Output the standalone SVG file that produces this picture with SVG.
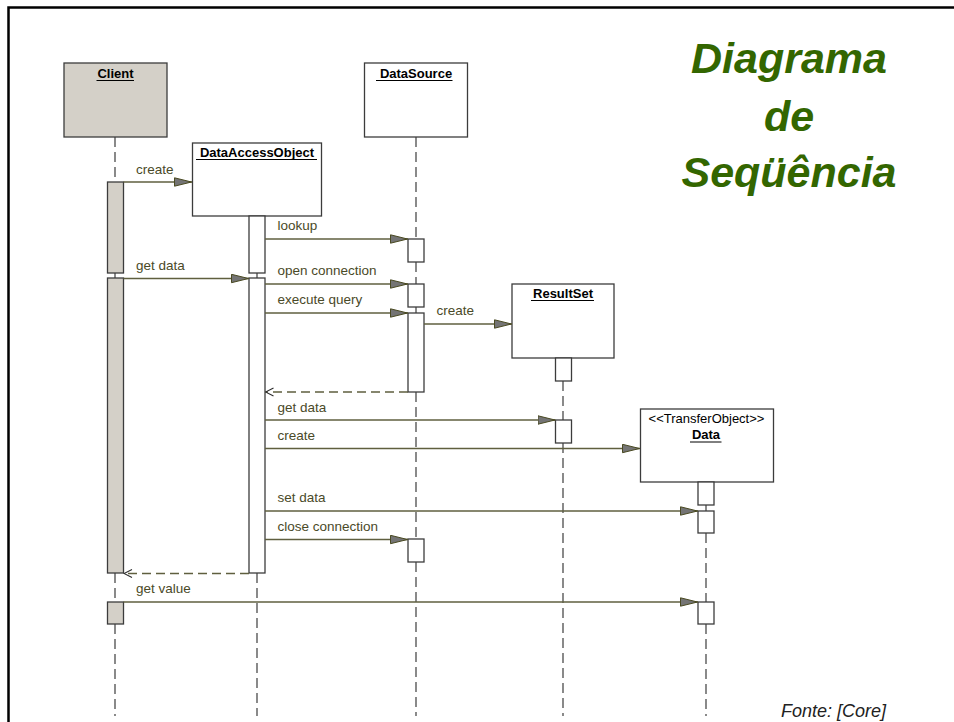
<svg xmlns="http://www.w3.org/2000/svg" width="954" height="722" viewBox="0 0 954 722">
  <style>
    .frame { stroke: #000; stroke-width: 2.5; fill: none; }
    .obj { fill: #fff; stroke: #3c3c3c; stroke-width: 1.3; }
    .obj.actor { fill: #d4d0c8; }
    .act { fill: #fff; stroke: #3c3c3c; stroke-width: 1.3; }
    .act.actor { fill: #d4d0c8; }
    .life { stroke: #3c3c3c; stroke-width: 1.2; stroke-dasharray: 10 5; fill: none; }
    .link { stroke: #3c3c3c; stroke-width: 1.2; fill: none; }
    .name { font-family: "Liberation Sans", Arial, sans-serif; font-size: 13px; font-weight: bold; fill: #000; text-anchor: middle; }
    .uline { stroke: #000; stroke-width: 1; }
    .stereo { font-family: "Liberation Sans", Arial, sans-serif; font-size: 13px; fill: #000; text-anchor: middle; }
    .msg { stroke: #5f5f3f; stroke-width: 1.3; fill: none; marker-end: url(#call); }
    .ret { stroke: #5f5f3f; stroke-width: 1.3; fill: none; stroke-dasharray: 9 5; marker-end: url(#back); }
    .lbl { font-family: "Liberation Sans", Arial, sans-serif; font-size: 13.5px; fill: #4a4a28; }
    .title { font-family: "Liberation Sans", Arial, sans-serif; font-size: 43px; font-weight: bold; font-style: italic; fill: #336600; text-anchor: middle; }
    .source { font-family: "Liberation Sans", Arial, sans-serif; font-size: 18px; font-style: italic; fill: #222; }
  </style>
  <defs>
    <marker id="call" viewBox="0 0 18 10" refX="18" refY="5" markerWidth="18" markerHeight="10" markerUnits="userSpaceOnUse" orient="auto">
      <path d="M0.5,0.8 L17.5,5 L0.5,9.2 z" fill="#747474" stroke="#4a4a22" stroke-width="1"/>
    </marker>
    <marker id="back" viewBox="0 0 10 10" refX="9" refY="5" markerWidth="10" markerHeight="10" markerUnits="userSpaceOnUse" orient="auto">
      <path d="M1,1 L9,5 L1,9" fill="none" stroke="#2a2a2a" stroke-width="1.1"/>
    </marker>
  </defs>

  <rect width="954" height="722" fill="#fff"/>

  <!-- outer frame -->
  <path class="frame" d="M8.5,722 L8.5,7.5 L954,7.5"/>

  <!-- title -->
  <g id="title">
    <text class="title" x="789" y="73">Diagrama</text>
    <text class="title" x="789" y="131">de</text>
    <text class="title" x="789" y="187">Seqüência</text>
  </g>

  <!-- Client -->
  <g id="client">
    <rect class="obj actor" x="64" y="63" width="103" height="74"/>
    <text class="name" x="115.5" y="78">Client</text>
    <line class="uline" x1="96.5" y1="80.5" x2="134" y2="80.5"/>
    <line class="life" x1="115" y1="137" x2="115" y2="182"/>
    <rect class="act actor" x="107.5" y="182" width="16" height="91"/>
    <line class="link" x1="115" y1="273" x2="115" y2="278"/>
    <rect class="act actor" x="107.5" y="278" width="16" height="295"/>
    <line class="life" x1="115" y1="573" x2="115" y2="602"/>
    <rect class="act actor" x="107.5" y="602" width="16" height="22"/>
    <line class="life" x1="115" y1="624" x2="115" y2="716"/>
  </g>

  <!-- DataAccessObject -->
  <g id="dao">
    <rect class="obj" x="192.5" y="143" width="129" height="73"/>
    <text class="name" x="257" y="157">DataAccessObject</text>
    <line class="uline" x1="196" y1="159.5" x2="317" y2="159.5"/>
    <rect class="act" x="249" y="216" width="16" height="57"/>
    <line class="link" x1="257" y1="273" x2="257" y2="278"/>
    <rect class="act" x="249" y="278" width="16" height="295"/>
    <line class="life" x1="257" y1="573" x2="257" y2="716"/>
  </g>

  <!-- DataSource -->
  <g id="datasource">
    <rect class="obj" x="364.5" y="63" width="103" height="74"/>
    <text class="name" x="416" y="78">DataSource</text>
    <line class="uline" x1="376" y1="80.5" x2="452.5" y2="80.5"/>
    <line class="life" x1="416" y1="137" x2="416" y2="239"/>
    <rect class="act" x="408" y="239" width="16" height="23"/>
    <line class="life" x1="416" y1="262" x2="416" y2="284"/>
    <rect class="act" x="408" y="284" width="16" height="23"/>
    <line class="link" x1="416" y1="307" x2="416" y2="313"/>
    <rect class="act" x="408" y="313" width="16" height="79"/>
    <line class="life" x1="416" y1="392" x2="416" y2="539"/>
    <rect class="act" x="408" y="539" width="16" height="23"/>
    <line class="life" x1="416" y1="562" x2="416" y2="716"/>
  </g>

  <!-- ResultSet -->
  <g id="resultset">
    <rect class="obj" x="512" y="284" width="102" height="74"/>
    <text class="name" x="563" y="298">ResultSet</text>
    <line class="uline" x1="531" y1="300.5" x2="594" y2="300.5"/>
    <rect class="act" x="555.5" y="358" width="16" height="23"/>
    <line class="life" x1="563" y1="381" x2="563" y2="420"/>
    <rect class="act" x="555.5" y="420" width="16" height="23"/>
    <line class="life" x1="563" y1="443" x2="563" y2="716"/>
  </g>

  <!-- Data (transfer object) -->
  <g id="data">
    <rect class="obj" x="640.5" y="409" width="133" height="73"/>
    <text class="stereo" x="706.5" y="423">&lt;&lt;TransferObject&gt;&gt;</text>
    <text class="name" x="706" y="439">Data</text>
    <line class="uline" x1="690" y1="442" x2="721.5" y2="442"/>
    <rect class="act" x="698" y="482" width="16" height="23"/>
    <line class="link" x1="706" y1="505" x2="706" y2="511"/>
    <rect class="act" x="698" y="511" width="16" height="22"/>
    <line class="life" x1="706" y1="533" x2="706" y2="602"/>
    <rect class="act" x="698" y="602" width="16" height="22"/>
    <line class="life" x1="706" y1="624" x2="706" y2="716"/>
  </g>

  <!-- messages -->
  <g id="messages">
    <line class="msg" x1="123.5" y1="182" x2="192" y2="182"/>
    <text class="lbl" x="136" y="174">create</text>

    <line class="msg" x1="265" y1="239" x2="408" y2="239"/>
    <text class="lbl" x="277.5" y="230">lookup</text>

    <line class="msg" x1="123.5" y1="278.5" x2="249" y2="278.5"/>
    <text class="lbl" x="136" y="270">get data</text>

    <line class="msg" x1="265" y1="284" x2="408" y2="284"/>
    <text class="lbl" x="277.5" y="275">open connection</text>

    <line class="msg" x1="265" y1="313" x2="408" y2="313"/>
    <text class="lbl" x="277.5" y="303.5">execute query</text>

    <line class="msg" x1="424" y1="324" x2="512" y2="324"/>
    <text class="lbl" x="436.5" y="315">create</text>

    <line class="ret" x1="408" y1="392" x2="265.5" y2="392"/>

    <line class="msg" x1="265" y1="420" x2="555.5" y2="420"/>
    <text class="lbl" x="277.5" y="411.5">get data</text>

    <line class="msg" x1="265" y1="448.5" x2="640" y2="448.5"/>
    <text class="lbl" x="277.5" y="440">create</text>

    <line class="msg" x1="265" y1="511" x2="698" y2="511"/>
    <text class="lbl" x="277.5" y="502">set data</text>

    <line class="msg" x1="265" y1="539.5" x2="408" y2="539.5"/>
    <text class="lbl" x="277.5" y="530.5">close connection</text>

    <line class="ret" x1="249" y1="573.5" x2="124" y2="573.5"/>

    <line class="msg" x1="123.5" y1="602" x2="698" y2="602"/>
    <text class="lbl" x="136" y="593">get value</text>
  </g>

  <text class="source" x="781" y="717">Fonte: [Core]</text>
</svg>
